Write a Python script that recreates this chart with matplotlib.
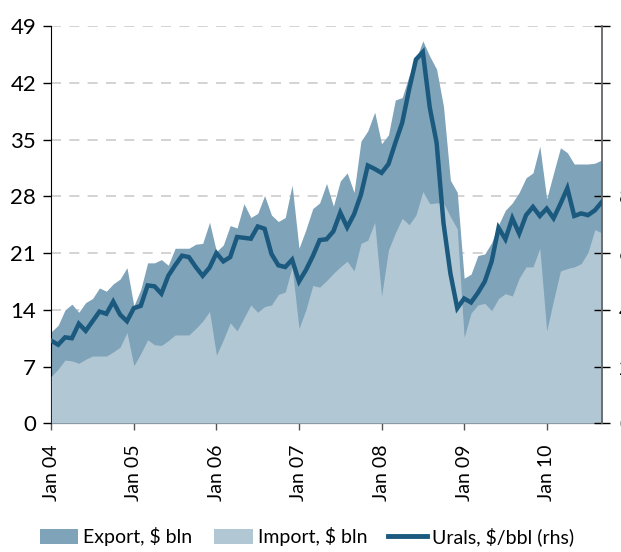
import matplotlib
matplotlib.use("Agg")
import matplotlib.pyplot as plt
import numpy as np
from matplotlib.patches import Patch
from matplotlib.lines import Line2D

# monthly data, Jan 2004 - Sep 2010
export_bln = [
    11.3, 12.1, 14.0, 14.7, 13.7, 14.9, 15.4, 16.7, 16.3, 17.2, 17.8, 19.2,
    14.5, 16.5, 19.8, 19.8, 20.2, 19.5, 21.6, 21.6, 21.6, 22.1, 22.2, 24.8,
    21.2, 22.0, 24.4, 24.1, 27.1, 25.4, 25.9, 28.1, 25.7, 24.9, 25.4, 29.4,
    21.6, 23.9, 26.5, 27.2, 29.6, 26.8, 29.9, 30.9, 28.5, 34.8, 36.1, 38.4,
    34.5, 35.6, 39.9, 40.2, 42.9, 44.9, 47.2, 45.3, 43.7, 39.1, 30.0, 28.5,
    17.9, 18.4, 20.7, 20.9, 22.3, 24.5, 26.3, 27.2, 28.5, 30.3, 30.9, 34.2,
    27.7, 30.9, 34.0, 33.4, 32.0, 32.0, 32.0, 32.1, 32.5,
]
import_bln = [
    5.8, 6.7, 7.8, 7.7, 7.4, 7.9, 8.3, 8.3, 8.3, 8.8, 9.4, 11.2,
    7.1, 8.6, 10.3, 9.7, 9.6, 10.2, 10.9, 10.9, 10.9, 11.7, 12.6, 13.8,
    8.4, 10.3, 12.4, 11.4, 13.0, 14.6, 13.7, 14.4, 14.6, 15.9, 16.2, 19.3,
    11.7, 14.0, 17.0, 16.8, 17.6, 18.5, 19.3, 20.0, 18.8, 22.2, 22.6, 24.8,
    15.7, 21.4, 23.5, 25.3, 24.5, 25.7, 28.6, 27.1, 27.2, 27.2, 25.5, 24.0,
    10.6, 13.6, 14.6, 14.8, 13.9, 15.4, 16.0, 15.7, 17.9, 19.3, 19.3, 21.6,
    11.4, 15.2, 18.8, 19.1, 19.3, 19.7, 21.1, 23.9, 23.5,
]
urals_bbl = [
    29.1, 27.7, 30.3, 30.0, 35.1, 32.6, 36.0, 39.4, 38.6, 42.9, 38.3, 36.0,
    40.6, 41.4, 48.6, 48.3, 45.7, 52.0, 55.7, 59.1, 58.6, 55.1, 52.0, 54.9,
    60.0, 57.1, 58.6, 65.7, 65.4, 65.1, 69.4, 68.6, 59.7, 55.7, 55.1, 57.7,
    50.0, 54.0, 58.9, 64.6, 64.9, 67.7, 74.3, 69.1, 73.7, 80.6, 90.9, 89.7,
    88.3, 91.4, 98.9, 106.0, 117.7, 128.3, 130.9, 111.4, 98.9, 70.6, 52.9, 40.6,
    44.0, 42.6, 46.0, 50.0, 57.1, 68.9, 64.9, 72.3, 66.9, 73.4, 76.3, 73.1,
    75.7, 72.3, 77.4, 82.9, 73.1, 74.0, 73.4, 75.1, 78.0,
]
tick_labels = ["Jan 04", "Jan 05", "Jan 06", "Jan 07", "Jan 08", "Jan 09", "Jan 10"]

months = np.arange(len(export_bln))

plt.rcParams['font.family'] = ['Lato', 'DejaVu Sans']
plt.rcParams['font.size'] = 16

export_color = "#7fa3b9"
import_color = "#b2c7d4"
urals_color = "#1b5a7e"

fig = plt.figure(figsize=(6.21, 5.52), dpi=100)
ax = fig.add_axes([0.0826, 0.2332, 0.8864, 0.7192])

ax.fill_between(months, 0, export_bln, color=export_color, linewidth=0, zorder=2)
ax.fill_between(months, 0, import_bln, color=import_color, linewidth=0, zorder=3)
ax.set_xlim(0, len(months) - 1)
ax.set_ylim(0, 49)
ax.set_yticks(np.arange(0, 50, 7))
ax.set_xticks(np.arange(0, len(months), 12))
ax.set_xticklabels(tick_labels, rotation=90, fontsize=14)
ax.grid(axis='y', color='#cccccc', linestyle=(0, (6, 5)), linewidth=1.2, zorder=0)
ax.set_axisbelow(True)

ax.spines['top'].set_visible(False)
ax.spines['right'].set_visible(False)
ax.spines['left'].set_color('black')
ax.spines['bottom'].set_color('black')
ax.tick_params(axis='y', direction='out', length=6, width=1, pad=5)
ax.tick_params(axis='x', direction='out', length=5, width=1, colors='#555555', labelcolor='black', pad=10)

ax2 = ax.twinx()
ax2.plot(months, urals_bbl, color=urals_color, linewidth=3.2, zorder=5, solid_joinstyle='miter')
ax2.set_ylim(0, 140)
ax2.set_yticks(np.arange(0, 141, 20))
ax2.set_yticklabels(["0", "20", "40", "60", "80", "", "", ""])
ax2.spines['top'].set_visible(False)
ax2.spines['left'].set_visible(False)
ax2.spines['bottom'].set_visible(False)
ax2.spines['right'].set_color('#666666')
ax2.spines['right'].set_linewidth(1.3)
ax2.tick_params(axis='y', direction='inout', length=11, width=1, colors='black', pad=7)

handles = [
    Patch(facecolor=export_color, edgecolor='none', label="Export, $ bln"),
    Patch(facecolor=import_color, edgecolor='none', label="Import, $ bln"),
    Line2D([], [], color=urals_color, linewidth=3.5, label="Urals, $/bbl (rhs)"),
]
fig.legend(handles=handles, loc='center left', bbox_to_anchor=(0.048, 1 - 537 / 552),
           bbox_transform=fig.transFigure, ncol=3, frameon=False, borderpad=0,
           fontsize=14, handlelength=2.0, handleheight=0.8, handletextpad=0.25,
           columnspacing=1.1)

fig.savefig("out.png", dpi=100)
